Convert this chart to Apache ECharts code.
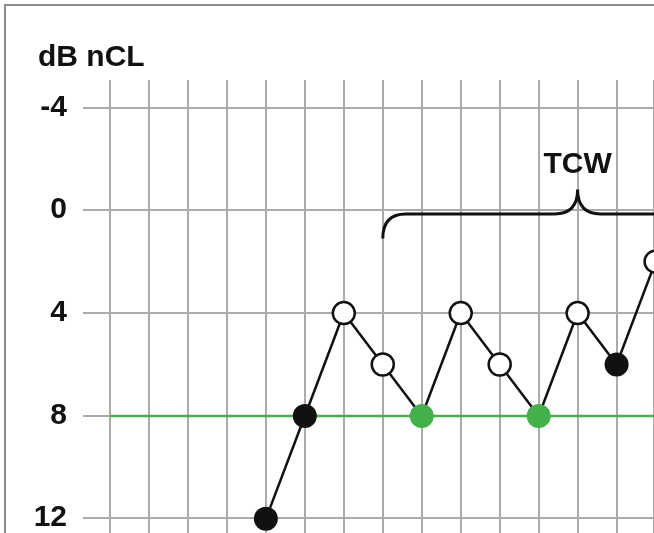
<!DOCTYPE html>
<html>
<head>
<meta charset="utf-8">
<script src="https://cdn.jsdelivr.net/npm/echarts@6/dist/echarts.min.js"></script>
<style>
  html, body { margin: 0; padding: 0; background: #fff; }
  #chart { width: 654px; height: 533px; }
</style>
</head>
<body>
<div id="chart"></div>
<script>
// trial number (x) and presentation level in dB nCL (y)
const trialX = [4, 5, 6, 7, 8, 9, 10, 11, 12, 13, 14];
const levelDb = [12, 8, 4, 6, 8, 4, 6, 8, 4, 6, 2];
// filled = black dot, open = white dot, green = dot on the reference line
const respType = ['filled', 'filled', 'open', 'open', 'green', 'open', 'open', 'green', 'open', 'filled', 'open'];

const yTicks = [-4, 0, 4, 8, 12];
const refLevel = 8;
// TCW bracket: start trial, peak trial, end trial
const bracket = [7, 12, 14.6];

const GREEN = '#43b049';
const FONT = '"Liberation Sans", Arial, sans-serif';

function styleFor(t) {
    if (t == 'filled') return { color: '#111', borderWidth: 0 };
    if (t == 'green') return { color: GREEN, borderWidth: 0 };
    return { color: '#fff', borderColor: '#111', borderWidth: 2.5 };
}

let points = [];
for (let i = 0; i < trialX.length; i++) {
    points.push({
        value: [trialX[i], levelDb[i]],
        symbolSize: respType[i] == 'open' ? 22 : 24,
        itemStyle: styleFor(respType[i])
    });
}

function renderBracket(params, api) {
    const x0 = api.value(0), xp = api.value(1), x1 = api.value(2);
    const lineY = 0.15, hookY = 1.1, peakY = -0.8;
    const A = api.coord([x0, hookY]);
    const B = api.coord([x0, lineY]);
    const P = api.coord([xp, peakY]);
    const PL = api.coord([xp, lineY]);
    const E = api.coord([x1, lineY]);
    const r = 23;
    const d = 'M' + A[0] + ' ' + A[1] +
        ' Q' + B[0] + ' ' + B[1] + ' ' + (B[0] + r) + ' ' + B[1] +
        ' L' + (PL[0] - r) + ' ' + PL[1] +
        ' Q' + PL[0] + ' ' + PL[1] + ' ' + P[0] + ' ' + P[1] +
        ' Q' + PL[0] + ' ' + PL[1] + ' ' + (PL[0] + r) + ' ' + PL[1] +
        ' L' + E[0] + ' ' + E[1];
    const T = api.coord([xp, -1.78]);
    return {
        type: 'group',
        children: [
            { type: 'path', shape: { pathData: d }, style: { fill: 'none', stroke: '#111', lineWidth: 3 } },
            { type: 'text', x: T[0], y: T[1], style: { text: 'TCW', font: 'bold 30px ' + FONT, fill: '#111', align: 'center', verticalAlign: 'middle' } }
        ]
    };
}

const chart = echarts.init(document.getElementById('chart'));
const option = {
    animation: false,
    backgroundColor: '#fff',
    title: {
        text: 'dB nCL',
        left: 33, top: 38,
        textStyle: { fontFamily: FONT, fontWeight: 'bold', fontSize: 30, color: '#111' }
    },
    graphic: [{
        type: 'rect', silent: true, z: 100,
        shape: { x: 5, y: 5, width: 700, height: 600 },
        style: { fill: 'none', stroke: '#8a8a8a', lineWidth: 2 }
    }],
    grid: [
        { left: 83, top: 107.5, right: 0, bottom: 13 },
        { left: 110, top: 80, right: 0, bottom: 0 }
    ],
    xAxis: [
        { gridIndex: 0, type: 'value', min: 0, max: 1, show: false },
        {
            gridIndex: 1, type: 'value', min: 0, max: 13.96, interval: 1,
            axisLine: { show: false }, axisTick: { show: false }, axisLabel: { show: false },
            splitLine: { show: true, lineStyle: { color: '#ababab', width: 2 } }
        }
    ],
    yAxis: [
        {
            gridIndex: 0, type: 'value', inverse: true, min: -4, max: 12, interval: 4,
            axisLine: { show: false }, axisTick: { show: false },
            axisLabel: {
                margin: 16, color: '#111', fontFamily: FONT, fontWeight: 'bold', fontSize: 30,
                formatter: v => yTicks.indexOf(v) >= 0 ? String(v) : ''
            },
            splitLine: { show: true, lineStyle: { color: '#ababab', width: 2 } }
        },
        {
            gridIndex: 1, type: 'value', inverse: true, min: -5.06, max: 12.55,
            axisLine: { show: false }, axisTick: { show: false }, axisLabel: { show: false },
            splitLine: { show: false }
        }
    ],
    series: [
        {
            type: 'line', xAxisIndex: 1, yAxisIndex: 1, symbol: 'none', z: 2,
            data: [[0, refLevel], [14.5, refLevel]],
            lineStyle: { color: GREEN, width: 2.5 }
        },
        {
            type: 'line', xAxisIndex: 1, yAxisIndex: 1, z: 3, clip: false,
            symbol: 'circle', data: points,
            lineStyle: { color: '#111', width: 2.5 }
        },
        {
            type: 'custom', xAxisIndex: 1, yAxisIndex: 1, z: 4,
            renderItem: renderBracket,
            data: [bracket]
        }
    ]
};
chart.setOption(option);
</script>
</body>
</html>
